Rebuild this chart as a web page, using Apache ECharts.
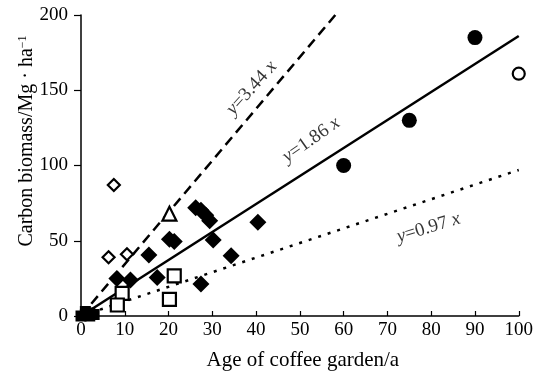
<!DOCTYPE html>
<html>
<head>
<meta charset="utf-8">
<script src="https://cdn.jsdelivr.net/npm/echarts@6/dist/echarts.min.js"></script>
<style>
  html, body { margin: 0; padding: 0; background: #fff; }
  #chart { width: 536px; height: 376px; }
</style>
</head>
<body>
<div id="chart"></div>
<script>
// Carbon biomass of coffee gardens by age, with three zero-intercept fits
const xTicks = [0, 10, 20, 30, 40, 50, 60, 70, 80, 90, 100];
const yTicks = [0, 50, 100, 150, 200];

const filledCircles = [[60, 100], [75, 130], [90, 185]];
const openCircles = [[100, 161]];
const openDiamonds = [[7.5, 87], [6.3, 39], [10.5, 41]];
const openTriangles = [[20.2, 68]];
const filledDiamonds = [
  [8.2, 25], [11.3, 24], [15.5, 40.5], [17.4, 25.5], [20.2, 51], [21.3, 49.5],
  [26.2, 72], [27.4, 70.3], [28.5, 67], [29.4, 63.3], [30.2, 50.5],
  [27.4, 21.3], [34.3, 40], [40.4, 62.3]
];
const openSquares = [[21.3, 26.6], [20.2, 11], [9.4, 15], [8.3, 7.3]];
const filledSquares = [[0, 0], [1, 1], [2, 2], [3, 1], [1, 3], [2, 0]];

// fitted lines y = k·x
const steepFit = [[0, 0], [58.1, 200]];   // y = 3.44 x
const middleFit = [[0, 0], [100, 186]];   // y = 1.86 x
const shallowFit = [[0, 0], [100, 97]];   // y = 0.97 x

const fitLabels = [
  { value: [39, 151.5], text: '{i|y}=3.44 {i|x}', rotate: 48 },
  { value: [52.6, 117], text: '{i|y}=1.86 {i|x}', rotate: 35 },
  { value: [79.4, 58.5], text: '{i|y}=0.97 {i|x}', rotate: 17 }
];

const FONT = '"Liberation Serif", "Times New Roman", serif';

function pts(type, data, size, filled) {
  return {
    type: 'scatter',
    data: data,
    symbol: type,
    symbolSize: size,
    itemStyle: filled
      ? { color: '#000', borderWidth: 0, opacity: 1 }
      : { color: '#fff', borderColor: '#000', borderWidth: 2.2, opacity: 1 },
    z: 5,
    silent: true
  };
}

function fit(data, dash, width) {
  return {
    type: 'line',
    data: data,
    symbol: 'none',
    lineStyle: { color: '#000', width: width, type: dash, cap: 'butt' },
    z: 3,
    silent: true
  };
}

const chart = echarts.init(document.getElementById('chart'));
chart.setOption({
  animation: false,
  backgroundColor: '#fff',
  grid: { left: 81, right: 14, top: 15, bottom: 60, containLabel: false },
  xAxis: {
    type: 'value', min: 0, max: 100, interval: 10,
    axisLine: { lineStyle: { color: '#000', width: 1.5 } },
    axisTick: { show: true, inside: true, length: 5, lineStyle: { color: '#000', width: 1.2 } },
    axisLabel: { color: '#000', fontFamily: FONT, fontSize: 19, margin: 5,
      formatter: v => xTicks.includes(v) ? String(v) : '' },
    splitLine: { show: false },
    name: 'Age of coffee garden/a',
    nameLocation: 'middle', nameGap: 34,
    nameTextStyle: { color: '#000', fontFamily: FONT, fontSize: 21, padding: [0, 0, 0, 6] }
  },
  yAxis: {
    type: 'value', min: 0, max: 200, interval: 50,
    axisLine: { show: true, lineStyle: { color: '#000', width: 1.5 } },
    axisTick: { show: true, inside: false, length: 7, lineStyle: { color: '#000', width: 1.2 } },
    axisLabel: { color: '#000', fontFamily: FONT, fontSize: 19, margin: 13,
      formatter: v => yTicks.includes(v) ? String(v) : '' },
    splitLine: { show: false }
  },
  graphic: [{
    type: 'text',
    x: 27, y: 141,
    rotation: Math.PI / 2,
    style: {
      text: 'Carbon biomass/Mg · ha{sup|−1}',
      fill: '#000',
      font: '20px ' + FONT,
      align: 'center',
      verticalAlign: 'middle',
      rich: { sup: { fontSize: 12, fontFamily: FONT, verticalAlign: 'top', fill: '#000', padding: [0, 0, 9, 0] } }
    }
  }],
  series: [
    fit(steepFit, [10, 6], 2.5),
    fit(middleFit, 'solid', 2.5),
    fit(shallowFit, [3, 7], 2.5),
    pts('rect', filledSquares, 11, true),
    pts('diamond', filledDiamonds, 17, true),
    pts('circle', filledCircles, 15, true),
    pts('circle', openCircles, 12, false),
    pts('diamond', openDiamonds, 12, false),
    pts('rect', openSquares, 13, false),
    pts('triangle', openTriangles, 14, false),
    {
      type: 'scatter',
      symbolSize: 0,
      silent: true,
      z: 6,
      data: fitLabels.map(d => ({
        value: d.value,
        label: {
          show: true, position: 'inside', formatter: d.text, rotate: d.rotate,
          color: '#000', fontFamily: FONT, fontSize: 19,
          rich: { i: { fontStyle: 'italic', fontFamily: FONT, fontSize: 19, color: '#000' } }
        }
      }))
    }
  ]
});
</script>
</body>
</html>
